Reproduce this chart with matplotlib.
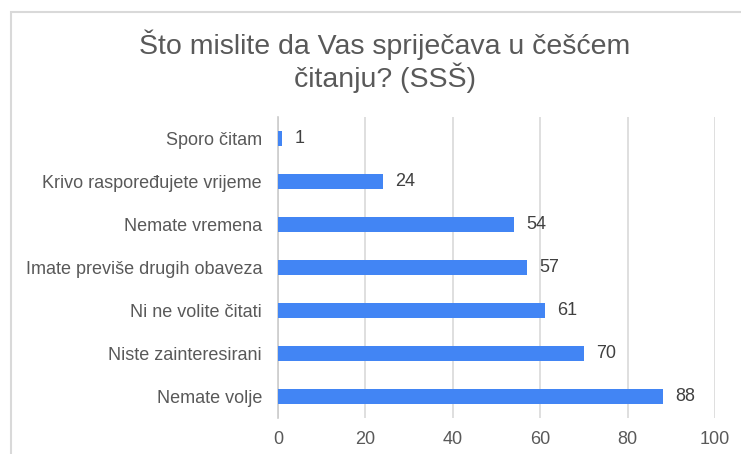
import matplotlib.pyplot as plt
from matplotlib.patches import Rectangle

categories = ["Sporo čitam", "Krivo raspoređujete vrijeme", "Nemate vremena",
              "Imate previše drugih obaveza", "Ni ne volite čitati",
              "Niste zainteresirani", "Nemate volje"]
values = [1, 24, 54, 57, 61, 70, 88]
xticks = [0, 20, 40, 60, 80, 100]

plt.rcParams['font.family'] = ['Liberation Sans', 'DejaVu Sans']

W, H = 741, 454
fig = plt.figure(figsize=(W / 100, H / 100), dpi=100, facecolor="white")

# outer chart frame (cropped on the right and bottom)
fig.patches.append(Rectangle((11 / W, -0.1), 1.2, 1 - 12 / H + 0.1, transform=fig.transFigure,
                             fill=False, edgecolor="#d9d9d9", linewidth=1.5))

ax = fig.add_axes([278 / W, 1 - 418 / H, (715 - 278) / W, (418 - 117) / H])
ypos = list(range(len(categories)))
ax.barh(ypos, values, height=0.37, color="#4285f4", zorder=3)
ax.set_ylim(len(categories) - 0.5, -0.5)
ax.set_xlim(0, 100)
ax.set_yticks(ypos)
ax.set_yticklabels(categories, fontsize=13, color="#595959")
ax.set_xticks(xticks)
ax.set_xticklabels([str(t) for t in xticks], fontsize=13, color="#595959")
ax.tick_params(axis="both", length=0)
ax.tick_params(axis="y", pad=11.5)
ax.tick_params(axis="x", pad=9)
for s in ["top", "right", "bottom"]:
    ax.spines[s].set_visible(False)
ax.spines["left"].set_color("#cccccc")
ax.spines["left"].set_linewidth(1.2)
ax.grid(axis="x", color="#d9d9d9", linewidth=1.2, zorder=0)
ax.set_axisbelow(True)

for y, v in zip(ypos, values):
    ax.annotate(str(v), (v, y), xytext=(9, 0), textcoords="offset points",
                va="center", ha="left", fontsize=13, color="#404040")

fig.text(385 / W, 1 - 61 / H, "Što mislite da Vas spriječava u češćem\nčitanju? (SSŠ)",
         ha="center", va="center", fontsize=20.5, color="#595959", linespacing=1.1)

fig.savefig("out.png", dpi=100)
